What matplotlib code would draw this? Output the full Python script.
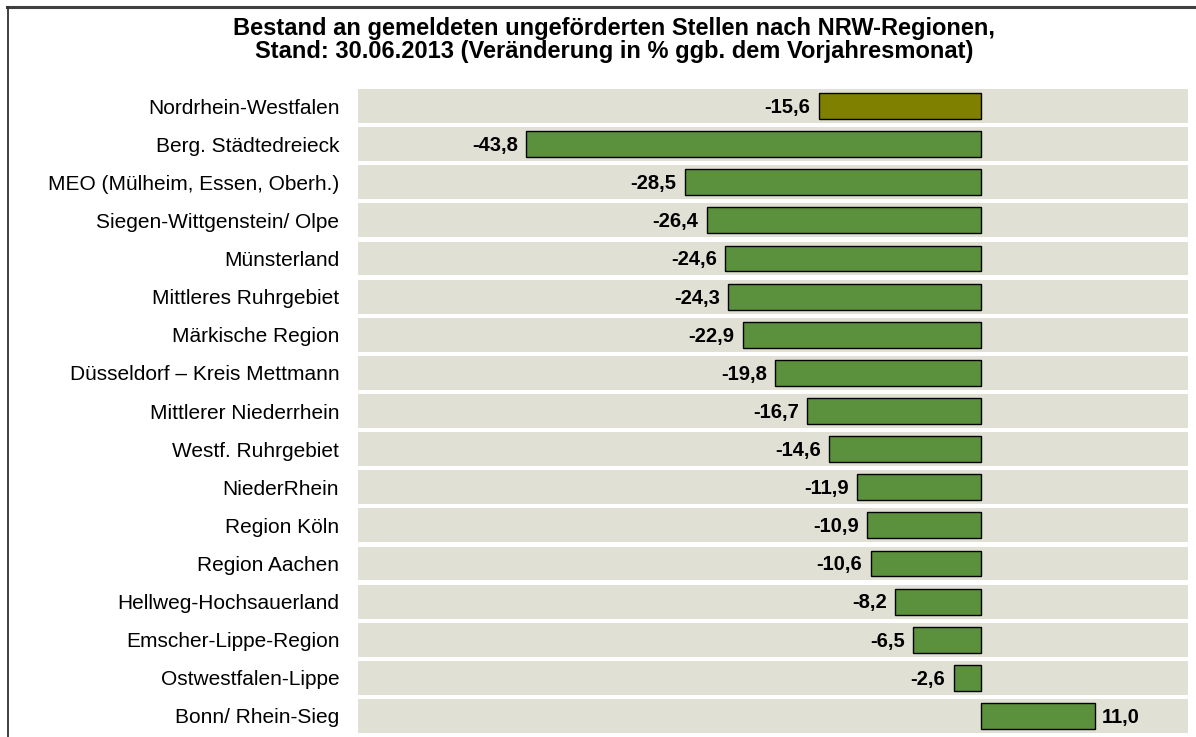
import matplotlib
matplotlib.use('Agg')
import matplotlib.pyplot as plt
from matplotlib.lines import Line2D

# Data
regions = ['Nordrhein-Westfalen', 'Berg. Städtedreieck', 'MEO (Mülheim, Essen, Oberh.)',
           'Siegen-Wittgenstein/ Olpe', 'Münsterland', 'Mittleres Ruhrgebiet',
           'Märkische Region', 'Düsseldorf – Kreis Mettmann', 'Mittlerer Niederrhein',
           'Westf. Ruhrgebiet', 'NiederRhein', 'Region Köln', 'Region Aachen',
           'Hellweg-Hochsauerland', 'Emscher-Lippe-Region', 'Ostwestfalen-Lippe',
           'Bonn/ Rhein-Sieg']
changes = [-15.6, -43.8, -28.5, -26.4, -24.6, -24.3, -22.9, -19.8, -16.7,
           -14.6, -11.9, -10.9, -10.6, -8.2, -6.5, -2.6, 11.0]
title = ('Bestand an gemeldeten ungeförderten Stellen nach NRW-Regionen,\n'
         'Stand: 30.06.2013 (Veränderung in % ggb. dem Vorjahresmonat)')

plt.rcParams['font.family'] = ['Liberation Sans', 'DejaVu Sans']

W, H = 1196, 737
fig = plt.figure(figsize=(W / 100, H / 100), dpi=100)

# outer frame (top and left edge visible)
fig.add_artist(Line2D([7 / W, 1], [1 - 7 / H, 1 - 7 / H], color='#404040', lw=2.2))
fig.add_artist(Line2D([7.5 / W, 7.5 / W], [0, 1 - 7 / H], color='#303030', lw=1.3))

fig.text(614 / W, 1 - 40 / H, title, ha='center', va='center', fontsize=17,
         fontweight='bold', linespacing=0.98)

ax = fig.add_axes([358 / W, 2 / H, 830 / W, 648 / H])
xmin, xmax = -60, 20
ypos = list(range(len(regions)))

# background stripes
ax.barh(ypos, xmax - xmin, left=xmin, height=0.89, color='#E0E0D4', zorder=0)

colors = ['#7F7F00'] + ['#5B903D'] * (len(regions) - 1)
ax.barh(ypos, changes, height=0.68, color=colors, edgecolor='black', linewidth=1.0, zorder=2)

for y, v in zip(ypos, changes):
    txt = f'{v:.1f}'.replace('.', ',')
    if v < 0:
        ax.annotate(txt, (v, y), xytext=(-6, -1), textcoords='offset points',
                    ha='right', va='center', fontsize=14.5, fontweight='bold')
    else:
        ax.annotate(txt, (v, y), xytext=(5, -1), textcoords='offset points',
                    ha='left', va='center', fontsize=14.5, fontweight='bold')

ax.set_xlim(xmin, xmax)
ax.set_ylim(len(regions) - 0.5, -0.5)
ax.set_yticks(ypos)
ax.set_yticklabels(regions, fontsize=15)
ax.tick_params(axis='y', length=0, pad=13.5)
ax.set_xticks([])
for s in ax.spines.values():
    s.set_visible(False)

fig.savefig('out.png', dpi=100)
